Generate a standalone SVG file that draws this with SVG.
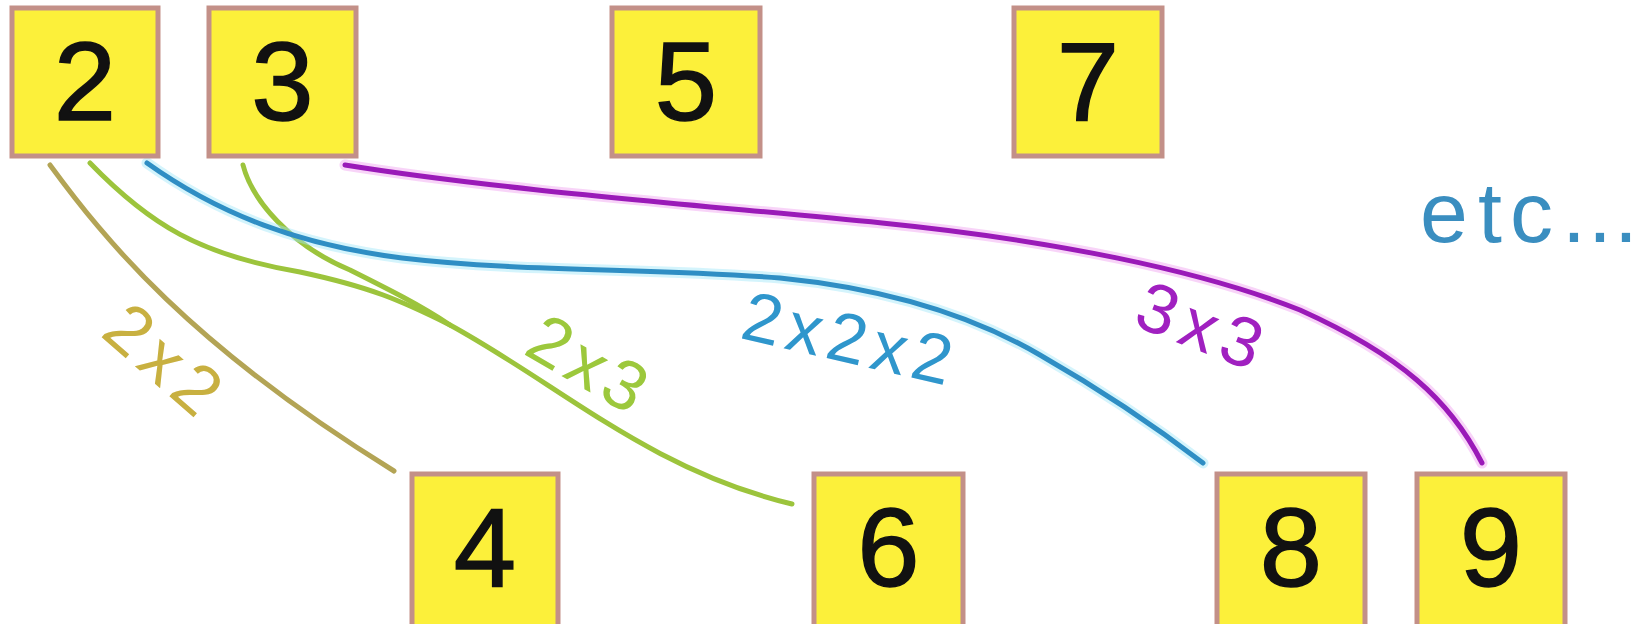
<svg xmlns="http://www.w3.org/2000/svg" width="1650" height="624" viewBox="0 0 1650 624">
  <style>
    .box rect { fill: #fcf03a; stroke: #c39088; stroke-width: 5; }
    .box text { font-family: "Liberation Sans", Arial, sans-serif; font-size: 112px; fill: #111; stroke: #111; stroke-width: 1.5; text-anchor: middle; }
    .lbl { font-family: "Liberation Sans", Arial, sans-serif; font-size: 70px; text-anchor: middle; }
    .ln { fill: none; stroke-width: 5; stroke-linecap: round; }
    .halo { fill: none; stroke-width: 11; stroke-linecap: round; opacity: 0.45; }
  </style>
  <rect x="0" y="0" width="1650" height="624" fill="#ffffff"/>

  <g id="connectors">
    <!-- 2 -> 4 -->
    <path class="ln" stroke="#b3a455" d="M50,165 C105,240 190,345 394,471"/>
    <!-- 2 -> 6 -->
    <path class="ln" stroke="#9cc43c" d="M90,163 C150,225 200,255 300,272 C370,287 400,300 450,325 C560,385 650,470 792,504"/>
    <!-- 3 -> 6 -->
    <path class="ln" stroke="#9cc43c" d="M243,165 C252,200 290,245 350,270 C390,290 420,305 450,325"/>
    <!-- 2 -> 8 -->
    <path class="halo" stroke="#9fe6f8" d="M147,163 C220,215 300,245 402,258 C520,272 650,268 780,278 C900,290 980,320 1040,355 C1110,395 1160,430 1203,463"/>
    <path class="ln" stroke="#2f8ec4" d="M147,163 C220,215 300,245 402,258 C520,272 650,268 780,278 C900,290 980,320 1040,355 C1110,395 1160,430 1203,463"/>
    <!-- 3 -> 9 -->
    <path class="halo" stroke="#f0a0f0" d="M345,165 C500,190 700,205 882,223 C1050,240 1200,270 1300,310 C1400,355 1450,400 1482,463"/>
    <path class="ln" stroke="#9a1ab8" d="M345,165 C500,190 700,205 882,223 C1050,240 1200,270 1300,310 C1400,355 1450,400 1482,463"/>

    <text class="lbl" fill="#c8b040" letter-spacing="8" transform="translate(167,361) rotate(41)" y="25">2x2</text>
    <text class="lbl" fill="#9cc83c" letter-spacing="6" transform="translate(591,364) rotate(30)" y="25">2x3</text>
    <text class="lbl" fill="#2f96cc" letter-spacing="6.5" transform="translate(851,338) rotate(13)" y="25">2x2x2</text>
    <text class="lbl" fill="#a020c0" letter-spacing="8" transform="translate(1204,326) rotate(21)" y="25">3x3</text>
  </g>

  <g id="n2" class="box"><rect x="12" y="8" width="146" height="148"/><text x="85" y="120">2</text></g>
  <g id="n3" class="box"><rect x="209" y="8" width="147" height="148"/><text x="282.5" y="120">3</text></g>
  <g id="n5" class="box"><rect x="612" y="8" width="148" height="148"/><text x="686" y="120">5</text></g>
  <g id="n7" class="box"><rect x="1014" y="8" width="148" height="148"/><text x="1088" y="120">7</text></g>
  <g id="n4" class="box"><rect x="412" y="474" width="146" height="160"/><text x="485" y="586">4</text></g>
  <g id="n6" class="box"><rect x="814" y="474" width="149" height="160"/><text x="888.5" y="586">6</text></g>
  <g id="n8" class="box"><rect x="1217" y="474" width="148" height="160"/><text x="1291" y="586">8</text></g>
  <g id="n9" class="box"><rect x="1417" y="474" width="148" height="160"/><text x="1491" y="586">9</text></g>

  <text id="etc" x="1420 1478 1510 1562 1588 1614" y="242" font-family="'Liberation Sans', Arial, sans-serif" font-size="86" fill="#3a8ec0">etc...</text>
</svg>
